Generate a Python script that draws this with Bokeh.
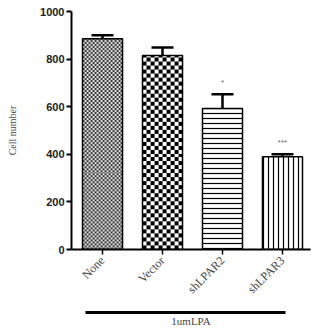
import math
import numpy as np
from bokeh.plotting import figure
from bokeh.models import FixedTicker, Whisker, TeeHead, ColumnDataSource, LinearAxis
from bokeh.embed import file_html
from bokeh.resources import INLINE

categories = ["None", "Vector", "shLPAR2", "shLPAR3"]
values = [885, 815, 592, 390]
errors = [15, 34, 60, 10]
stars = ["", "", "*", "***"]
y_ticks = [0, 200, 400, 600, 800, 1000]
group_label = "1umLPA"

BAR_W = 0.667          # bar width in x units
PX_X = 60.0            # pixels per x unit
PX_Y = 239.0 / 1000.0  # pixels per y unit


def checker(h, w, cell, c1, c2):
    yy, xx = np.mgrid[0:h, 0:w]
    m = ((yy // cell) + (xx // cell)) % 2 == 0
    img = np.empty((h, w), dtype=np.uint32)
    view = img.view(dtype=np.uint8).reshape((h, w, 4))
    view[m] = c1 + (255,)
    view[~m] = c2 + (255,)
    return img


xs = list(range(len(categories)))
src = ColumnDataSource(dict(x=xs, top=values, upper=[v + e for v, e in zip(values, errors)],
                            lower=values, star=stars,
                            stary=[v + e + 48 for v, e in zip(values, errors)]))

p = figure(width=311, height=329, output_backend="svg", toolbar_location=None,
           x_range=(-0.517, 3.467), y_range=(0, 1000),
           min_border_left=71, min_border_right=1, min_border_top=11, min_border_bottom=79)
p.outline_line_color = None
p.xgrid.visible = False
p.ygrid.visible = False

textures = [(2, (55, 55, 55), (225, 225, 225)), (4, (0, 0, 0), (255, 255, 255))]
for i, (cell, c1, c2) in enumerate(textures):
    h = int(round(values[i] * PX_Y))
    w = int(round(BAR_W * PX_X))
    p.image_rgba(image=[checker(h, w, cell, c1, c2)], x=xs[i] - BAR_W / 2, y=0,
                 dw=BAR_W, dh=values[i])
    p.vbar(x=[xs[i]], top=[values[i]], width=BAR_W, fill_color=None,
           line_color="black", line_width=1.5)

for i, pat in [(2, "-"), (3, "|")]:
    p.vbar(x=[xs[i]], top=[values[i]], width=BAR_W, fill_color="white",
           line_color="black", line_width=1.5, hatch_pattern=pat,
           hatch_color="black", hatch_scale=5, hatch_weight=1.2)

p.add_layout(Whisker(source=src, base="x", upper="upper", lower="lower",
                     line_color="black", line_width=2.5,
                     upper_head=TeeHead(size=22, line_width=2.5, line_color="black"),
                     lower_head=None))

p.text(x="x", y="stary", text="star", source=src, text_align="center",
       text_baseline="middle", text_font_size="8px", text_color="#666666")

p.yaxis.ticker = FixedTicker(ticks=y_ticks)
p.yaxis.minor_tick_line_color = None
p.yaxis.major_tick_out = 5
p.yaxis.major_tick_in = 0
p.yaxis.axis_line_width = 2
p.yaxis.major_tick_line_width = 2
p.yaxis.major_label_text_font = "Liberation Sans"
p.yaxis.major_label_text_font_style = "bold"
p.yaxis.major_label_text_font_size = "11px"
p.yaxis.major_label_text_color = "#222222"
p.yaxis.major_label_standoff = 2
p.yaxis.axis_label = "Cell number"
p.yaxis.axis_label_text_font = "Liberation Serif"
p.yaxis.axis_label_text_font_style = "normal"
p.yaxis.axis_label_text_font_size = "10px"
p.yaxis.axis_label_standoff = 19

p.xaxis.ticker = FixedTicker(ticks=xs)
p.xaxis.major_label_overrides = {i: c for i, c in zip(xs, categories)}
p.xaxis.minor_tick_line_color = None
p.xaxis.major_tick_out = 5
p.xaxis.major_tick_in = 0
p.xaxis.axis_line_width = 2
p.xaxis.major_tick_line_width = 1.5
p.xaxis.major_label_orientation = math.pi / 4
p.xaxis.major_label_text_font = "Liberation Serif"
p.xaxis.major_label_text_font_size = "12px"
p.xaxis.major_label_standoff = 4
p.xaxis.axis_label = " "
p.xaxis.axis_label_text_font_size = "4px"
p.xaxis.axis_label_standoff = 0

group_axis = LinearAxis(ticker=FixedTicker(ticks=[]), bounds=(-0.283, 3.05),
                        axis_line_width=3, axis_line_color="black",
                        major_tick_line_color=None, minor_tick_line_color=None,
                        major_label_text_font_size="0px",
                        axis_label=group_label, axis_label_text_font="Liberation Serif",
                        axis_label_text_font_style="normal", axis_label_text_font_size="11px",
                        axis_label_standoff=2)
p.add_layout(group_axis, "below")

open("out.html", "w").write(file_html(p, INLINE))
